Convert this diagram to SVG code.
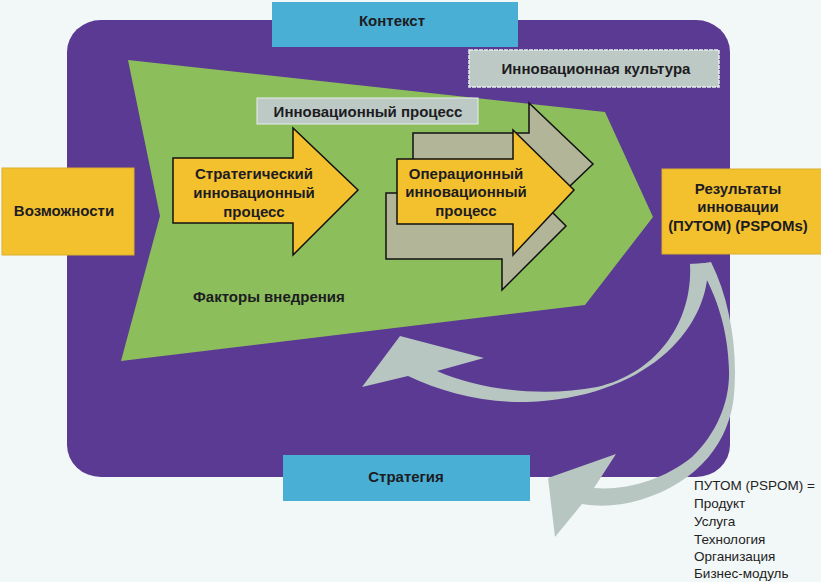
<svg xmlns="http://www.w3.org/2000/svg" width="821" height="582" viewBox="0 0 821 582">
<style>
.t{font-family:"Liberation Sans",Arial,sans-serif;font-weight:bold;font-size:15px;fill:#1c1c22;text-anchor:middle}
.n{font-family:"Liberation Sans",Arial,sans-serif;font-size:13.5px;fill:#222}
.y{fill:#F4C12E}
.blue{fill:#4AAFD4}
.gbox{fill:#BCC9C4}
.arr{stroke:#111;stroke-width:1.5;stroke-linejoin:miter}
.curve{fill:#B8C6C2}
</style>
<rect width="821" height="582" fill="#F2F8F8"/>
<g id="frame"><rect x="67" y="20" width="663" height="457" rx="34" ry="32" fill="#5A3A92"/></g>
<g id="green"><polygon points="128,60 605,112 653,217 585,305 121,361 160,216" fill="#8CBE5C"/></g>
<g id="context"><rect class="blue" x="272" y="2" width="246" height="45"/><text class="t" x="392" y="26">Контекст</text></g>
<g id="culture"><rect class="gbox" x="469" y="50" width="250" height="37" stroke="#E6EEEC" stroke-width="1.5" stroke-dasharray="4 1"/><text class="t" x="596" y="74">Инновационная культура</text></g>
<g id="process"><rect class="gbox" x="257" y="98" width="221" height="26" stroke="#E6EEEC" stroke-width="1"/><text class="t" x="368" y="117">Инновационный процесс</text></g>
<g id="opportunities"><rect class="y" x="2" y="168" width="132" height="87" stroke="#D9AE2A" stroke-width="1"/><text class="t" x="64" y="216">Возможности</text></g>
<g id="results"><rect class="y" x="662" y="169" width="160" height="85" stroke="#D9AE2A" stroke-width="1"/><text class="t" x="738" y="194">Результаты</text><text class="t" x="738" y="212">инновации</text><text class="t" x="738" y="231">(ПУТОМ) (PSPOMs)</text></g>
<g id="strategic"><polygon class="y arr" points="173,158 293,158 293,128 358,190 293,255 293,223 173,223"/><text class="t" x="254" y="179">Стратегический</text><text class="t" x="254" y="198">инновационный</text><text class="t" x="254" y="217">процесс</text></g>
<g id="operational">
<polygon class="arr" fill="#B2B597" points="413,133 529,133 529,103 593,164 529,225 529,195 413,195"/>
<polygon class="arr" fill="#B2B597" points="386,193 502,193 502,162 566,226 502,290 502,259 386,259"/>
<polygon class="y arr" points="397,159 513,159 513,130 574,190 513,255 513,224 397,224"/>
<text class="t" x="466" y="179">Операционный</text><text class="t" x="466" y="197">инновационный</text><text class="t" x="466" y="216">процесс</text></g>
<g id="factors"><text class="t" x="193" y="302" style="text-anchor:start">Факторы внедрения</text></g>
<g id="strategy"><rect class="blue" x="283" y="455" width="247" height="46"/><text class="t" x="406" y="482">Стратегия</text></g>
<g id="connectors">
<path class="curve" d="M688,264 L708,263 C710,330 645,398 527,402 C482,403 442,392 408,376 L362,387 L400,336 L484,358 L437,371 C482,391 545,397 597,387 C657,373 693,322 690,264 Z"/>
<path class="curve" d="M698,264 L711,262 C730,300 738,350 734,395 C730,440 700,482 640,500 C620,506 600,507 582,504 L555,537 L548,478 L616,454 L594,488 C624,491 664,480 692,457 C718,432 730,400 729,370 C728,330 717,295 698,264 Z"/>
</g>
<g id="legend">
<text class="n" x="694" y="490">ПУТОМ (PSPOM) =</text>
<text class="n" x="694" y="508">Продукт</text>
<text class="n" x="694" y="526">Услуга</text>
<text class="n" x="694" y="544">Технология</text>
<text class="n" x="694" y="561">Организация</text>
<text class="n" x="694" y="578">Бизнес-модуль</text>
</g>
</svg>
